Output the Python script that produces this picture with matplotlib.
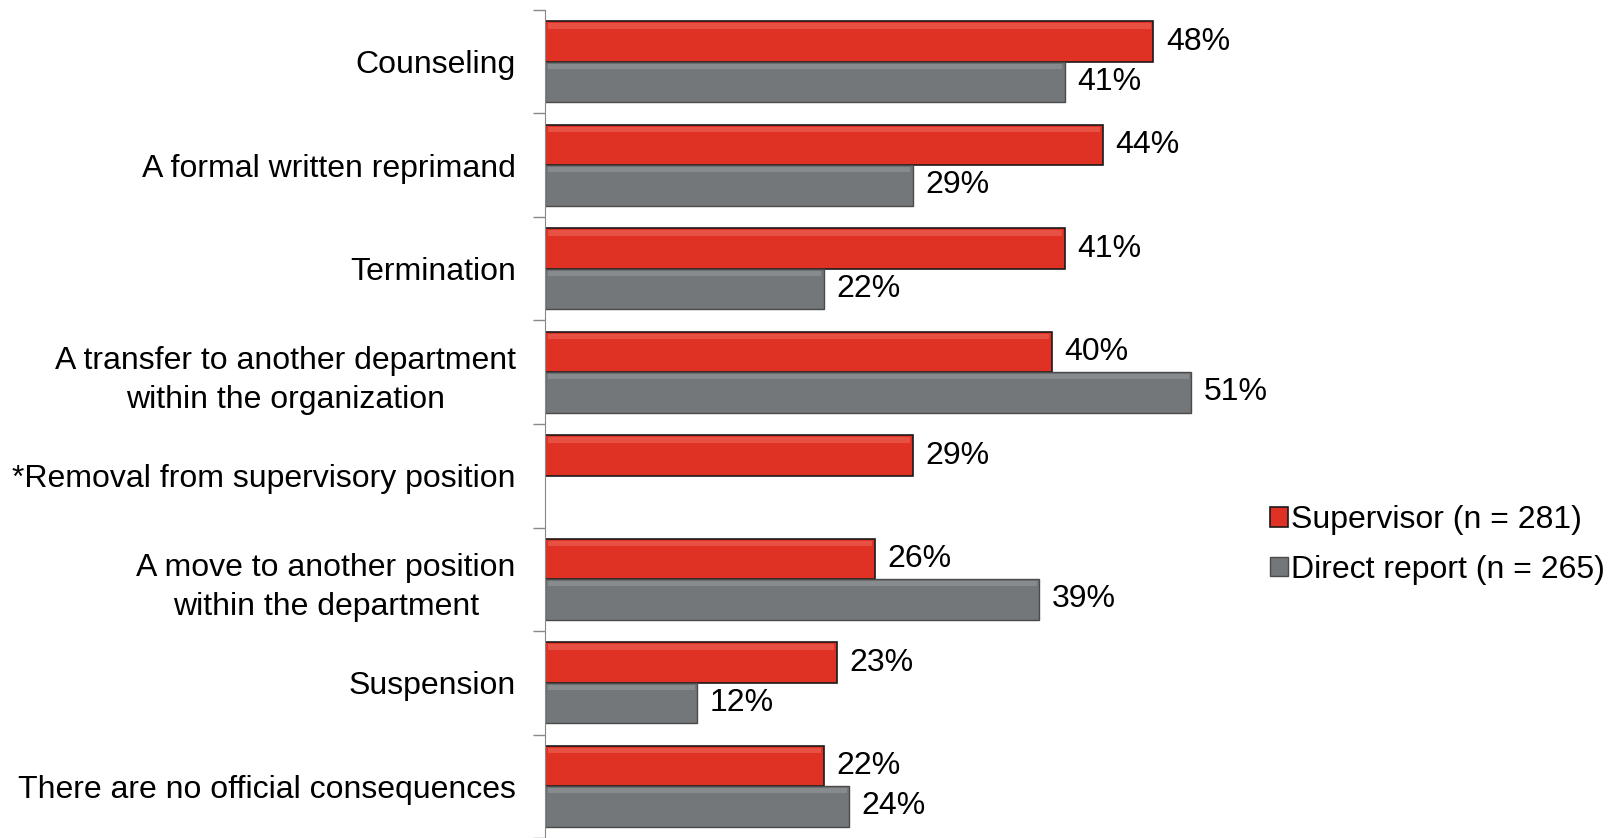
import numpy as np
import matplotlib.pyplot as plt
from matplotlib.ticker import FixedLocator

plt.rcParams['font.family'] = ['Liberation Sans', 'DejaVu Sans']

categories = ["Counseling",
              "A formal written reprimand",
              "Termination",
              "A transfer to another department\nwithin the organization",
              "*Removal from supervisory position",
              "A move to another position\nwithin the department",
              "Suspension",
              "There are no official consequences"]
supervisor = [48, 44, 41, 40, 29, 26, 23, 22]
direct = [41, 29, 22, 51, None, 39, 12, 24]
labels = ["Supervisor (n = 281)", "Direct report (n = 265)"]

red = "#E03224"
gray = "#747779"
fs = 23

fig = plt.figure(figsize=(16.18, 8.38), dpi=100)
ax = fig.add_axes([545/1618, 0.0, 0.47, 1 - 10/838])

y = np.arange(len(categories))
h = 0.39
d_vals = [v if v is not None else 0 for v in direct]

rb = ax.barh(y - h/2, supervisor, height=h, color=red, edgecolor="#1a1a1a",
             linewidth=1.2, label=labels[0])
gb = ax.barh(y + h/2, d_vals, height=h, color=gray, edgecolor="#4a4a4a",
             linewidth=1.0, label=labels[1])
# hide the missing direct-report bar
for b, v in zip(gb, direct):
    if v is None:
        b.set_visible(False)

# soft bevel highlight on bars
for bars, hl in ((rb, "#EA5A4B"), (gb, "#8E9193")):
    for b in bars:
        if not b.get_visible():
            continue
        x0, y0 = b.get_x(), b.get_y()
        w = b.get_width()
        ax.fill_between([x0 + 0.2, x0 + w - 0.2], y0 + 0.02, y0 + 0.07,
                        color=hl, linewidth=0, zorder=3, alpha=0.8)

for i in range(len(categories)):
    ax.text(supervisor[i] + 1.0, y[i] - h/2, f"{supervisor[i]}%",
            va="center", ha="left", fontsize=fs)
    if direct[i] is not None:
        ax.text(direct[i] + 1.0, y[i] + h/2, f"{direct[i]}%",
                va="center", ha="left", fontsize=fs)

ax.set_xlim(0, 60)
ax.set_ylim(len(categories) - 0.5, -0.5)
ax.set_yticks(y)
ax.set_yticklabels(categories, fontsize=fs, multialignment="center",
                   linespacing=1.4)
ax.tick_params(axis="y", which="major", length=0, pad=21)
ax.yaxis.set_minor_locator(FixedLocator(np.arange(-0.5, len(categories), 1)))
ax.tick_params(axis="y", which="minor", length=9, color="#888888", width=1)
ax.set_xticks([])
for s in ("top", "right", "bottom"):
    ax.spines[s].set_visible(False)
ax.spines["left"].set_color("#888888")

leg = fig.legend(handles=[rb, gb], labels=labels, loc="center left",
                 bbox_to_anchor=(1270/1618, 1 - 545/838), frameon=False,
                 fontsize=fs, handlelength=0.55, handleheight=0.55,
                 handletextpad=0.12, labelspacing=0.6, borderpad=0,
                 borderaxespad=0)

fig.savefig("out.png", dpi=100)
